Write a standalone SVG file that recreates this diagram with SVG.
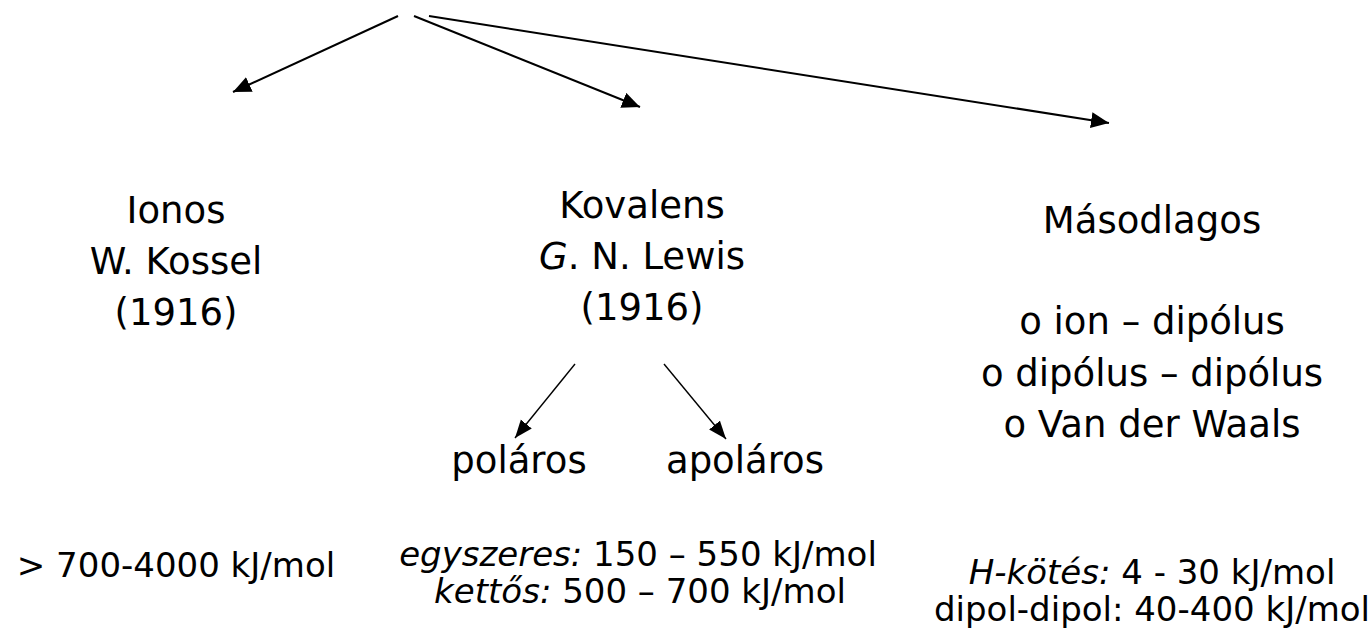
<svg xmlns="http://www.w3.org/2000/svg" width="1371" height="630" viewBox="0 0 1371 630">
<defs>
<style>
.t{font-family:"DejaVu Sans","Liberation Sans",sans-serif;fill:#000;text-anchor:middle}
.L{font-size:37px}
.S{font-size:34px}
.i{font-style:italic}
.c{stroke:#000;fill:none}
.m{stroke-width:2}
.s{stroke-width:1.4}
</style>
<marker id="ah" markerUnits="userSpaceOnUse" markerWidth="20" markerHeight="16" refX="18" refY="8" orient="auto">
<path d="M0,0 L18,8 L0,16 z" fill="#000"/>
</marker>
<marker id="ah2" markerUnits="userSpaceOnUse" markerWidth="20" markerHeight="16" refX="18" refY="7" orient="auto">
<path d="M0,0 L18,7 L0,14 z" fill="#000"/>
</marker>
</defs>
<rect width="1371" height="630" fill="#fff"/>
<g id="connectors">
<line class="c m" x1="398" y1="16" x2="233" y2="92" marker-end="url(#ah)"/>
<line class="c m" x1="414" y1="16" x2="640" y2="107" marker-end="url(#ah)"/>
<line class="c m" x1="429" y1="16" x2="1109" y2="123" marker-end="url(#ah)"/>
<line class="c s" x1="575" y1="364" x2="515" y2="438" marker-end="url(#ah2)"/>
<line class="c s" x1="664" y1="364" x2="726" y2="439" marker-end="url(#ah2)"/>
</g>
<g id="ionos">
<text class="t L" x="176" y="223">Ionos</text>
<text class="t L" x="176" y="274">W. Kossel</text>
<text class="t L" x="176" y="325">(1916)</text>
</g>
<g id="kovalens">
<text class="t L" x="642" y="218">Kovalens</text>
<text class="t L" x="642" y="269"><tspan class="i">G</tspan>. N. Lewis</text>
<text class="t L" x="642" y="320">(1916)</text>
</g>
<g id="masodlagos">
<text class="t L" x="1152" y="233">Másodlagos</text>
<text class="t L" x="1152" y="334">o ion – dipólus</text>
<text class="t L" x="1152" y="386">o dipólus – dipólus</text>
<text class="t L" x="1152" y="437">o Van der Waals</text>
</g>
<g id="polaros">
<text class="t L" x="519" y="473">poláros</text>
</g>
<g id="apolaros">
<text class="t L" x="745" y="473">apoláros</text>
</g>
<g id="ionos-energia">
<text class="t S" x="176" y="577">&gt; 700-4000 kJ/mol</text>
</g>
<g id="kovalens-energia">
<text class="t S" x="638" y="566"><tspan class="i">egyszeres:</tspan> 150 – 550 kJ/mol</text>
<text class="t S" x="640" y="603"><tspan class="i">kettős:</tspan> 500 – 700 kJ/mol</text>
</g>
<g id="masodlagos-energia">
<text class="t S" x="1152" y="584"><tspan class="i">H-kötés:</tspan> 4 - 30 kJ/mol</text>
<text class="t S" x="1152" y="621">dipol-dipol: 40-400 kJ/mol</text>
</g>
</svg>
